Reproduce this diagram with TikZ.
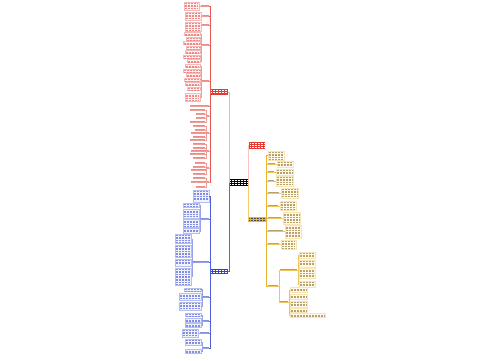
\documentclass[tikz,border=0pt]{standalone}
\usetikzlibrary{fit}
\definecolor{rC}{HTML}{E23B33}
\definecolor{rL}{HTML}{FDF2F1}
\definecolor{bC}{HTML}{2E43D1}
\definecolor{bL}{HTML}{F0F2FD}
\definecolor{yC}{HTML}{EBB531}
\definecolor{yL}{HTML}{FFFAEA}
\definecolor{yT}{HTML}{9A7A2A}
\tikzset{
 txtr/.style={draw=rC!60,line width=.45pt,dash pattern=on 1.1pt off .4pt},
 txtb/.style={draw=bC!60,line width=.45pt,dash pattern=on 1.1pt off .4pt},
 txty/.style={draw=yT!70,line width=.45pt,dash pattern=on 1.1pt off .4pt},
 txtw/.style={draw=white,line width=.5pt,dash pattern=on 1.1pt off .4pt},
 txtk/.style={draw=black!70,line width=.5pt,dash pattern=on 1.1pt off .4pt},
 lkr/.style={draw=rC!50,line width=.35pt},
 lkb/.style={draw=bC!50,line width=.35pt},
 lky/.style={draw=yC!80,line width=.35pt},
 busr/.style={draw=rC!85,line width=.6pt},
 busb/.style={draw=bC!85,line width=.6pt},
 busy/.style={draw=yC,line width=.6pt},
 hub/.style={line width=.5pt},
}
% boxed text block: name, x1, y1, x2, y2, colour letter
\newcommand\tblk[6]{%
  \node[fit={(#2,#3)(#4,#5)},inner sep=0pt,draw=#6C!35,fill=#6L,line width=.25pt] (#1) {};
  \pgfmathsetmacro\tya{#3+1.5}\pgfmathsetmacro\tyb{#3+3.1}\pgfmathsetmacro\tye{#5-0.9}%
  \foreach \yy in {\tya,\tyb,...,\tye}{\draw[txt#6] (#2+0.8,\yy) -- (#4-0.8,\yy);}%
}
% one-line label with underline drawn by its connector: name, x1, x2, y, colour letter
\newcommand\lbl[5]{%
  \node[fit={(#2,#4-2.2)(#3,#4)},inner sep=0pt] (#1) {};
  \draw[txt#5] (#2+0.4,#4-1.1) -- (#3-0.4,#4-1.1);%
}
% main filled node: name, x1, y1, x2, y2, fill, text style
\newcommand\mainnode[7]{%
  \node[fit={(#2,#3)(#4,#5)},inner sep=0pt,fill=#6] (#1) {};
  \pgfmathsetmacro\tya{#3+1.7}\pgfmathsetmacro\tyb{#3+3.7}\pgfmathsetmacro\tye{#5-1.2}%
  \foreach \yy in {\tya,\tyb,...,\tye}{\draw[#7] (#2+1,\yy) -- (#4-1,\yy);}%
}
\begin{document}
\begin{tikzpicture}[x=1pt,y=-1pt]
\useasboundingbox (0,0) rectangle (500,360);
\fill[white] (0,0) rectangle (500,360);

% ---------- main nodes ----------
\mainnode{c}{229}{179}{248}{186}{black}{txtw}
\mainnode{R}{210}{89}{228}{95}{rC}{txtw}
\mainnode{B}{210}{269}{228}{274}{bC}{txtw}
\mainnode{T}{249}{142}{265}{149}{rC}{txtw}
\mainnode{Y}{248}{217}{266}{222}{yC}{txtk}

\draw[hub,draw=rC!40] (c.west) |- (R.east);
\draw[hub,draw=bC!80] (c.west) |- (B.east);
\draw[hub,draw=rC!30] (c.east) |- (T.west);
\draw[hub,draw=yC!70] (c.east) |- (Y.west);

% ---------- red branch ----------
\lbl{ra}{201}{209}{6}{r}
\tblk{rat}{184}{2}{199}{10}{r}
\draw[busr] (R.west) |- (ra.south east);
\draw[lkr] (ra.south east) -- (ra.south west) -- (rat.east |- ra.south);

\lbl{rba}{202}{209}{16}{r}
\tblk{rbat}{185}{12}{201}{20}{r}
\draw[busr] (R.west) |- (rba.south east);
\draw[lkr] (rba.south east) -- (rba.south west) -- (rbat.east |- rba.south);

\lbl{rbb}{202}{209}{25}{r}
\tblk{rbbt}{185}{22}{201}{31}{r}
\draw[busr] (R.west) |- (rbb.south east);
\draw[lkr] (rbb.south east) -- (rbb.south west) -- (rbbt.east |- rbb.south);

\lbl{rc}{202}{209}{45}{r}
\draw[busr] (R.west) |- (rc.south east);
\draw[lkr] (rc.south east) -- (rc.south west);
\foreach \n/\yy/\xs in {1/34/184,2/38.5/186,3/43/183,4/47.5/186,5/52/185,6/56.5/183,7/61/187}{
  \tblk{rc\n}{\xs}{\yy-1.6}{200}{\yy+1.6}{r}
  \draw[lkr] (rc.south west) -- ++(-0.6,0) |- (rc\n.east);
}

\lbl{rd}{202}{209}{81}{r}
\draw[busr] (R.west) |- (rd.south east);
\draw[lkr] (rd.south east) -- (rd.south west);
\foreach \n/\yy/\xs in {1/66/185,2/70.5/183,3/75/186,4/79.5/184,5/84/185,6/88.5/187}{
  \tblk{rd\n}{\xs}{\yy-1.6}{200}{\yy+1.6}{r}
  \draw[lkr] (rd.south west) -- ++(-0.6,0) |- (rd\n.east);
}
\tblk{rd7}{185}{93.5}{200}{101.5}{r}
\draw[lkr] (rd.south west) -- ++(-0.6,0) |- (rd7.east);

\lbl{rx}{190}{209}{106}{r}
\draw[busr] (R.west) |- (rx.south east);
\draw[lkr] (rx.south east) -- (rx.south west);

% lower red groups: underlined one-line leaves
\foreach \g/\gy/\leaves in {
  e/116/{1/110/190,2/114/196,3/118/196,4/122/190},
  f/133/{1/126/193,2/130/195,3/133/191,4/137/193,5/140/190},
  g/151/{1/144/193,2/148/193,3/151/191,4/154/190,5/158/193},
  h/168/{1/163/195,2/167/193,3/170/191,4/174/193},
  i/182/{1/178/193,2/182/191,3/187/196}}{
  \lbl{r\g}{206.5}{209.5}{\gy}{r}
  \draw[busr] (R.west) |- (r\g.south east);
  \draw[lkr] (r\g.south east) -- (r\g.south west);
  \foreach \n/\yy/\xs in \leaves {
    \lbl{r\g\n}{\xs}{205.5}{\yy}{r}
    \draw[lkr] (r\g.south west) -- ++(-0.5,0) |- (r\g\n.south east) -- (r\g\n.south west);
  }
}

% ---------- blue branch ----------
\tblk{ba}{193}{190}{209}{202}{b}
\draw[busb] (B.west) |- (ba.east);

\lbl{bb}{201}{209}{219}{b}
\draw[busb] (B.west) |- (bb.south east);
\draw[lkb] (bb.south east) -- (bb.south west);
\foreach \n/\ya/\yb in {1/203/207.5,2/209.5/218,3/219.5/227,4/228.5/233.5}{
  \tblk{bb\n}{183}{\ya}{199.5}{\yb}{b}
  \draw[lkb] (bb.south west) -- ++(-0.6,0) |- (bb\n.east);
}

\lbl{bc}{193}{209}{262}{b}
\draw[busb] (B.west) |- (bc.south east);
\draw[lkb] (bc.south east) -- (bc.south west);
\foreach \n/\ya/\yb in {1/234/243.5,2/245/257.5,3/259/266,4/268/285}{
  \tblk{bc\n}{175}{\ya}{191.5}{\yb}{b}
  \draw[lkb] (bc.south west) -- ++(-0.6,0) |- (bc\n.east);
}

\lbl{bd}{203}{209}{297}{b}
\draw[busb] (B.west) |- (bd.south east);
\draw[lkb] (bd.south east) -- (bd.south west);
\foreach \n/\xa/\ya/\yb in {1/184/288/291.2,2/179/293.5/300.5,3/179/302/310}{
  \tblk{bd\n}{\xa}{\ya}{201}{\yb}{b}
  \draw[lkb] (bd.south west) -- ++(-0.6,0) |- (bd\n.east);
}

\lbl{be}{203}{209}{321}{b}
\draw[busb] (B.west) |- (be.south east);
\draw[lkb] (be.south east) -- (be.south west);
\foreach \n/\ya/\yb in {1/313/316.4,2/318.5/322,3/323.5/327}{
  \tblk{be\n}{185}{\ya}{201}{\yb}{b}
  \draw[lkb] (be.south west) -- ++(-0.6,0) |- (be\n.east);
}

\lbl{bf}{200}{209}{333}{b}
\tblk{bft}{182}{329}{198.5}{337}{b}
\draw[busb] (B.west) |- (bf.south east);
\draw[lkb] (bf.south east) -- (bf.south west) -- (bft.east |- bf.south);

\lbl{bg}{203}{209}{348}{b}
\draw[busb] (B.west) |- (bg.south east);
\draw[lkb] (bg.south east) -- (bg.south west);
\foreach \n/\ya/\yb in {1/339/345.5,2/349.5/353}{
  \tblk{bg\n}{185}{\ya}{201}{\yb}{b}
  \draw[lkb] (bg.south west) -- ++(-0.6,0) |- (bg\n.east);
}

% ---------- yellow branch ----------
\tblk{ya}{268}{151}{284}{160}{y}
\draw[busy] (Y.east) |- (ya.west);

\foreach \n/\lx/\ly/\bx/\ba/\bb/\bxe in {
  2/275/164/277/161/167/293,
  3/274/172/276/169/175/293,
  4/274/181/276/176/186/293,
  5/279/193/281/188/198/298,
  6/278/206/280/201/210/296,
  7/281/218/283/212.5/224/300,
  8/283/231/285/225.5/238/301,
  9/279/244/281/240/249/296}{
  \lbl{yl\n}{268}{\lx}{\ly}{y}
  \tblk{yt\n}{\bx}{\ba}{\bxe}{\bb}{y}
  \draw[busy] (Y.east) |- (yl\n.south west);
  \draw[lky] (yl\n.south west) -- (yl\n.south east) -- (yt\n.west |- yl\n.south);
}

\lbl{yk}{268}{278}{286}{y}
\draw[busy] (Y.east) |- (yk.south west);
\draw[lky] (yk.south west) -- (yk.south east);

\lbl{yka}{280}{297}{270}{y}
\draw[lky] (yk.south east) -- ++(0.8,0) |- (yka.south west) -- (yka.south east);
\foreach \n/\ya/\yb in {1/252/258,2/260/267,3/268.5/278.5,4/281/287.5}{
  \tblk{yka\n}{299}{\ya}{315}{\yb}{y}
  \draw[lky] (yka.south east) -- ++(0.8,0) |- (yka\n.west);
}

\lbl{ykb}{280}{288}{302}{y}
\draw[lky] (yk.south east) -- ++(0.8,0) |- (ykb.south west) -- (ykb.south east);
\foreach \n/\ya/\yb/\xb in {1/287.5/292/307,2/294.5/299/307,3/301/307/307,4/308.5/312/307,5/313.5/316.8/325}{
  \tblk{ykb\n}{290}{\ya}{\xb}{\yb}{y}
  \draw[lky] (ykb.south east) -- ++(0.8,0) |- (ykb\n.west);
}
\end{tikzpicture}
\end{document}
